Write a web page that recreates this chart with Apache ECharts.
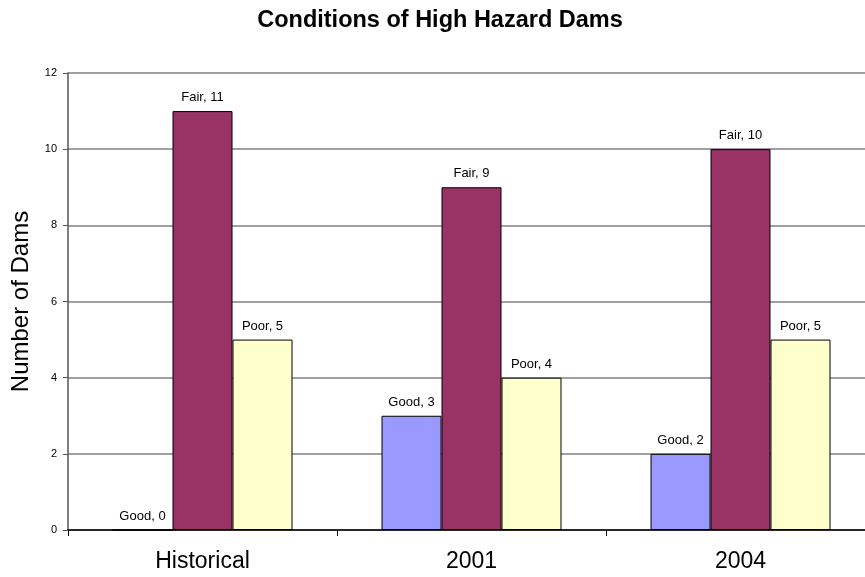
<!DOCTYPE html>
<html>
<head>
<meta charset="UTF-8">
<title>Conditions of High Hazard Dams</title>
<script src="https://cdn.jsdelivr.net/npm/echarts@6/dist/echarts.min.js"></script>
<style>
  html, body { margin: 0; padding: 0; background: #fff; overflow: hidden; }
  /* the plot runs past the right edge of the picture, so the chart is a bit wider than the window */
  #main { width: 885px; height: 577px; }
</style>
</head>
<body>
<div id="main"></div>
<script type="text/javascript">
    // data
    var categories = ['Historical', '2001', '2004'];
    var goodData = [0, 3, 2];
    var fairData = [11, 9, 10];
    var poorData = [5, 4, 5];

    var myChart = echarts.init(document.getElementById('main'));

    function barSeries(name, data, color) {
        return {
            name: name,
            type: 'bar',
            data: data,
            barWidth: 60,
            barGap: '0%',
            itemStyle: { color: color, borderColor: '#000', borderWidth: 1 },
            label: {
                show: true,
                position: 'top',
                distance: 7,
                formatter: '{a}, {c}',
                fontFamily: 'Liberation Sans, Arial',
                fontSize: 13,
                color: '#000'
            }
        };
    }

    var option = {
        animation: false,
        title: {
            text: 'Conditions of High Hazard Dams',
            left: 435,
            top: 4,
            textAlign: 'center',
            textStyle: { fontFamily: 'Liberation Sans, Arial', fontSize: 23.5, fontWeight: 'bold', color: '#000' }
        },
        grid: { left: 68, top: 73, width: 807, height: 457 },
        xAxis: {
            type: 'category',
            data: categories,
            axisLine: { lineStyle: { color: '#000', width: 1.5 } },
            axisTick: { show: true, length: 6, lineStyle: { color: '#000' } },
            axisLabel: { fontFamily: 'Liberation Sans, Arial', fontSize: 23, color: '#000', margin: 20 }
        },
        yAxis: {
            type: 'value',
            min: 0,
            max: 12,
            interval: 2,
            name: 'Number of Dams',
            nameLocation: 'middle',
            nameGap: 26,
            nameTextStyle: { fontFamily: 'Liberation Sans, Arial', fontSize: 24, color: '#000' },
            axisLine: { show: true, lineStyle: { color: '#555', width: 1.5 } },
            axisTick: { show: true, length: 5, lineStyle: { color: '#555' } },
            axisLabel: { fontFamily: 'Liberation Sans, Arial', fontSize: 11, color: '#000', margin: 11 },
            splitLine: { lineStyle: { color: '#808080', width: 1.5 } }
        },
        series: [
            barSeries('Good', goodData, '#9999FF'),
            barSeries('Fair', fairData, '#993366'),
            barSeries('Poor', poorData, '#FFFFCC')
        ]
    };
    myChart.setOption(option);
</script>
</body>
</html>
